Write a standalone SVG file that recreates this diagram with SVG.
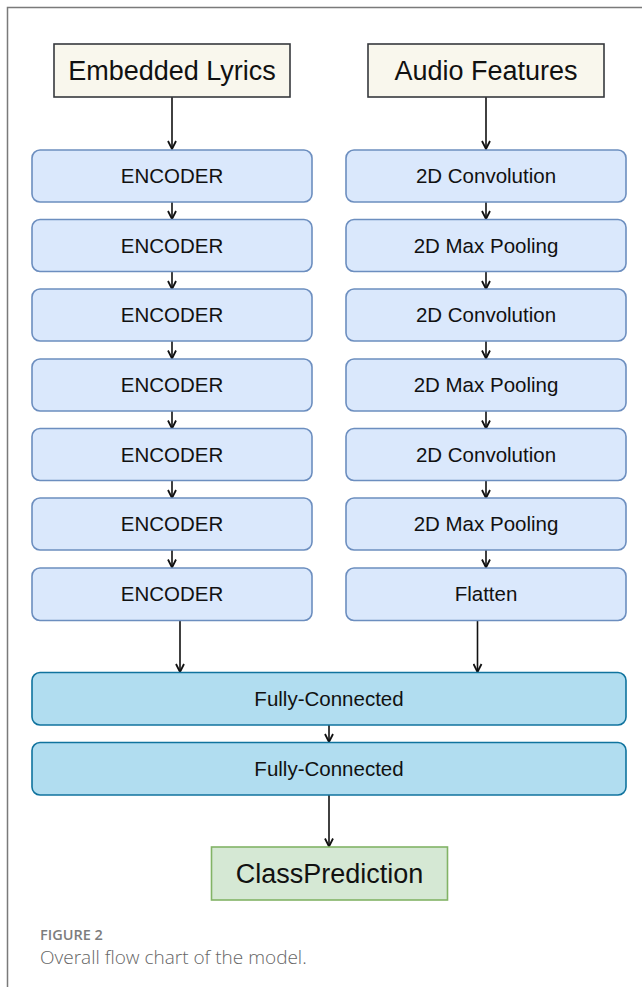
<svg xmlns="http://www.w3.org/2000/svg" width="642" height="987" viewBox="0 0 642 987">
  <style>
    text { font-family: "Liberation Sans", Arial, sans-serif; fill: #111; text-anchor: middle; }
    .title { font-size: 27px; }
    .lbl { font-size: 20.5px; }
    .src { fill: #f9f7ed; stroke: #36393d; stroke-width: 1.6; }
    .layer { fill: #dae8fc; stroke: #6c8ebf; stroke-width: 1.6; }
    .fc { fill: #b1ddf0; stroke: #10739e; stroke-width: 1.6; }
    .out { fill: #d5e8d4; stroke: #82b366; stroke-width: 1.6; }
    .edge { stroke: #111; stroke-width: 1.6; fill: none; }
    .cap1 { font-family: "Open Sans", "Noto Sans", sans-serif; font-size: 14.5px; font-weight: 600; fill: #7d7d7d; text-anchor: start; }
    .cap2 { font-family: "Open Sans", "Noto Sans", sans-serif; font-size: 19px; font-weight: 300; fill: #666; text-anchor: start; }
  </style>
  <defs>
    <marker id="arr" viewBox="0 0 10 10" refX="9" refY="5" markerWidth="10" markerHeight="10" markerUnits="userSpaceOnUse" orient="auto">
      <path d="M1,1 L9,5 L1,9" fill="none" stroke="#111" stroke-width="1.8"/>
    </marker>
  </defs>

  <rect width="642" height="987" fill="#fff"/>
  <!-- page frame -->
  <path d="M7.5,987 V7.5 H642" fill="none" stroke="#7a7a7a" stroke-width="1.5"/>

  <!-- connectors -->
  <g id="connectors">
    <line class="edge" x1="172" y1="97" x2="172" y2="149" marker-end="url(#arr)"/>
    <line class="edge" x1="486" y1="97" x2="486" y2="149" marker-end="url(#arr)"/>

    <line class="edge" x1="172" y1="202" x2="172" y2="219" marker-end="url(#arr)"/>
    <line class="edge" x1="172" y1="271.5" x2="172" y2="289" marker-end="url(#arr)"/>
    <line class="edge" x1="172" y1="341" x2="172" y2="358.5" marker-end="url(#arr)"/>
    <line class="edge" x1="172" y1="411" x2="172" y2="428.5" marker-end="url(#arr)"/>
    <line class="edge" x1="172" y1="480.5" x2="172" y2="498" marker-end="url(#arr)"/>
    <line class="edge" x1="172" y1="550" x2="172" y2="567.5" marker-end="url(#arr)"/>

    <line class="edge" x1="486" y1="202" x2="486" y2="219" marker-end="url(#arr)"/>
    <line class="edge" x1="486" y1="271.5" x2="486" y2="289" marker-end="url(#arr)"/>
    <line class="edge" x1="486" y1="341" x2="486" y2="358.5" marker-end="url(#arr)"/>
    <line class="edge" x1="486" y1="411" x2="486" y2="428.5" marker-end="url(#arr)"/>
    <line class="edge" x1="486" y1="480.5" x2="486" y2="498" marker-end="url(#arr)"/>
    <line class="edge" x1="486" y1="550" x2="486" y2="567.5" marker-end="url(#arr)"/>

    <line class="edge" x1="180" y1="620.5" x2="180" y2="672" marker-end="url(#arr)"/>
    <line class="edge" x1="477.5" y1="620.5" x2="477.5" y2="672" marker-end="url(#arr)"/>
    <line class="edge" x1="329" y1="725" x2="329" y2="742" marker-end="url(#arr)"/>
    <line class="edge" x1="329" y1="795" x2="329" y2="846.5" marker-end="url(#arr)"/>
  </g>

  <!-- inputs -->
  <g id="embedded-lyrics">
    <rect class="src" x="54" y="44" width="236" height="53"/>
    <text class="title" x="172" y="80">Embedded Lyrics</text>
  </g>
  <g id="audio-features">
    <rect class="src" x="368" y="44" width="236" height="53"/>
    <text class="title" x="486" y="80">Audio Features</text>
  </g>

  <!-- lyrics branch -->
  <g id="encoder-1"><rect class="layer" x="32" y="150" width="280" height="52" rx="8"/><text class="lbl" x="172" y="183">ENCODER</text></g>
  <g id="encoder-2"><rect class="layer" x="32" y="219.5" width="280" height="52" rx="8"/><text class="lbl" x="172" y="252.5">ENCODER</text></g>
  <g id="encoder-3"><rect class="layer" x="32" y="289" width="280" height="52" rx="8"/><text class="lbl" x="172" y="322">ENCODER</text></g>
  <g id="encoder-4"><rect class="layer" x="32" y="359" width="280" height="52" rx="8"/><text class="lbl" x="172" y="392">ENCODER</text></g>
  <g id="encoder-5"><rect class="layer" x="32" y="428.5" width="280" height="52" rx="8"/><text class="lbl" x="172" y="461.5">ENCODER</text></g>
  <g id="encoder-6"><rect class="layer" x="32" y="498" width="280" height="52" rx="8"/><text class="lbl" x="172" y="531">ENCODER</text></g>
  <g id="encoder-7"><rect class="layer" x="32" y="568" width="280" height="52.5" rx="8"/><text class="lbl" x="172" y="601">ENCODER</text></g>

  <!-- audio branch -->
  <g id="conv-1"><rect class="layer" x="346" y="150" width="280" height="52" rx="8"/><text class="lbl" x="486" y="183">2D Convolution</text></g>
  <g id="pool-1"><rect class="layer" x="346" y="219.5" width="280" height="52" rx="8"/><text class="lbl" x="486" y="252.5">2D Max Pooling</text></g>
  <g id="conv-2"><rect class="layer" x="346" y="289" width="280" height="52" rx="8"/><text class="lbl" x="486" y="322">2D Convolution</text></g>
  <g id="pool-2"><rect class="layer" x="346" y="359" width="280" height="52" rx="8"/><text class="lbl" x="486" y="392">2D Max Pooling</text></g>
  <g id="conv-3"><rect class="layer" x="346" y="428.5" width="280" height="52" rx="8"/><text class="lbl" x="486" y="461.5">2D Convolution</text></g>
  <g id="pool-3"><rect class="layer" x="346" y="498" width="280" height="52" rx="8"/><text class="lbl" x="486" y="531">2D Max Pooling</text></g>
  <g id="flatten"><rect class="layer" x="346" y="568" width="280" height="52.5" rx="8"/><text class="lbl" x="486" y="601">Flatten</text></g>

  <!-- fused head -->
  <g id="fc-1"><rect class="fc" x="32" y="672.5" width="594" height="52.5" rx="8"/><text class="lbl" x="329" y="706">Fully-Connected</text></g>
  <g id="fc-2"><rect class="fc" x="32" y="742.5" width="594" height="52.5" rx="8"/><text class="lbl" x="329" y="776">Fully-Connected</text></g>

  <g id="class-prediction">
    <rect class="out" x="211.5" y="847" width="236" height="53"/>
    <text class="title" x="329.5" y="883">ClassPrediction</text>
  </g>

  <!-- caption -->
  <text class="cap1" x="40" y="939.5">FIGURE 2</text>
  <text class="cap2" x="40" y="964">Overall flow chart of the model.</text>
</svg>
